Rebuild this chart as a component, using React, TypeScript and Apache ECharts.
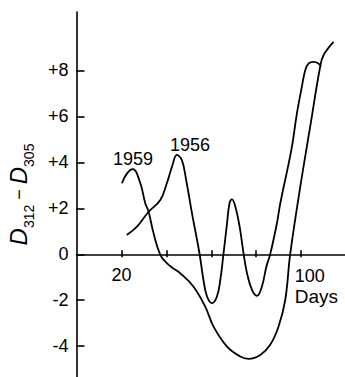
import React, { useEffect, useRef } from 'react';
import * as echarts from 'echarts';

// Days after start and D312 - D305 readings
const days1959 = [20.2, 22.5, 25.1, 28.4, 30.6, 32.1, 34.3, 37.3, 40.2, 43, 46.2, 52.1, 57.3, 61, 67, 72.9, 76.6, 81.8, 86.2, 89.9, 92.9, 95.1, 99.6, 104, 108.5, 110, 114.4];
const vals1959 = [3.09, 3.52, 3.7, 3.09, 2.22, 1.85, 0.91, -0.03, -0.39, -0.61, -0.83, -1.41, -2.28, -3.15, -4.02, -4.45, -4.55, -4.38, -3.94, -3.15, -1.99, 0, 2.94, 5.55, 8.19, 8.67, 9.24];

const days1956 = [22.4, 26.9, 32.1, 37.3, 40.2, 42.5, 44.7, 46.9, 48.8, 51.4, 52.8, 54.8, 56.5, 58.1, 60.3, 62.5, 64, 65.4, 67, 68.1, 69.2, 70.7, 72.6, 74.4, 75.9, 78.1, 80.3, 82.5, 84.5, 86.2, 89.2, 90.7, 95.6, 98.1, 100.3, 101.8, 103.3, 105.5, 107.7, 108.8];
const vals1956 = [0.84, 1.2, 1.85, 2.36, 3.09, 3.81, 4.32, 4.1, 3.23, 1.78, 1.06, 0, -1.12, -1.84, -2.13, -1.84, -1.12, 0, 1.35, 2.22, 2.39, 2.07, 1.2, 0, -0.83, -1.55, -1.81, -1.41, -0.54, 0, 1.35, 2.22, 4.53, 6.13, 7.29, 8.01, 8.3, 8.37, 8.3, 8.16];

const seriesNames = ['1959', '1956'];
const xTicks = [20, 40, 60, 80, 100];
const xLabels = [20, 100];
const yTicks = [-4, -2, 0, 2, 4, 6, 8];
const xUnitName = 'Days';

const X_MIN = 0;
const X_MAX = 119.5;
const Y_MIN = -5.34;
const Y_MAX = 10.54;

const FONT = 'Liberation Sans';
const INK = '#000';

function zip(xs: number[], ys: number[]) {
  return xs.map((x, i) => [x, ys[i]]);
}

function earlyPeak(xs: number[], ys: number[], limit: number) {
  let best = 0;
  for (let i = 0; i < xs.length; i++) {
    if (xs[i] < limit && ys[i] > ys[best]) best = i;
  }
  return [xs[best], ys[best]];
}

export default function App() {
  const ref = useRef<HTMLDivElement>(null);

  useEffect(() => {
    if (!ref.current) return;
    const chart = echarts.init(ref.current, null, { renderer: 'svg' });

    const GRID_TOP = 12;
    const GRID_H = 365;
    // move the x axis up from the grid bottom to the value 0 of the y axis
    const zeroOffset = -GRID_H * (0 - Y_MIN) / (Y_MAX - Y_MIN);

    const lineStyle = { color: INK, width: 1.6 };

    const mkSeries = (name: string, xs: number[], ys: number[], offsetX: number) => ({
      name,
      type: 'line',
      data: zip(xs, ys),
      smooth: 0.4,
      symbol: 'none',
      lineStyle: { color: INK, width: 1.8 },
      markPoint: {
        symbol: 'circle',
        symbolSize: 0,
        silent: true,
        itemStyle: { color: 'transparent' },
        label: {
          show: true,
          position: 'top',
          distance: 1,
          offset: [offsetX, 0],
          formatter: name,
          color: INK,
          fontFamily: FONT,
          fontSize: 18,
        },
        data: [{ coord: earlyPeak(xs, ys, 60) }],
      },
    });

    const option: any = {
      animation: false,
      backgroundColor: '#fff',
      textStyle: { fontFamily: FONT, color: INK },
      grid: { left: 76.5, top: GRID_TOP, width: 268.5, height: GRID_H, containLabel: false, outerBoundsMode: 'none' },
      xAxis: [
        {
          type: 'value',
          position: 'bottom',
          offset: zeroOffset,
          min: X_MIN,
          max: X_MAX,
          axisLine: { show: true, onZero: false, lineStyle },
          axisTick: { show: true, customValues: xTicks, inside: true, length: 4, lineStyle },
          axisLabel: {
            customValues: xLabels,
            margin: 12,
            color: INK,
            fontFamily: FONT,
            fontSize: 18,
            formatter: (v: number) =>
              v === 100 ? '{s| }{h|' + v + '}\n{s| }{d|' + xUnitName + '}' : String(v),
            rich: {
              s: { width: 33, align: 'left', fontSize: 18, lineHeight: 20 },
              h: { width: 46, align: 'left', fontSize: 18, lineHeight: 20, fontFamily: FONT, color: INK },
              d: { width: 46, align: 'left', fontSize: 19, lineHeight: 20, fontFamily: FONT, color: INK },
            },
          },
          splitLine: { show: false },
        },
        {
          type: 'value',
          position: 'bottom',
          offset: zeroOffset,
          min: X_MIN,
          max: X_MAX,
          axisLine: { show: false, onZero: false },
          axisTick: { show: true, customValues: xTicks, inside: false, length: 3, lineStyle },
          axisLabel: { show: false },
          splitLine: { show: false },
        },
      ],
      yAxis: {
        type: 'value',
        min: Y_MIN,
        max: Y_MAX,
        axisLine: { show: true, onZero: false, lineStyle },
        axisTick: { show: true, customValues: yTicks, inside: true, length: 8, lineStyle },
        axisLabel: {
          customValues: yTicks,
          margin: 8,
          color: INK,
          fontFamily: FONT,
          fontSize: 18,
          formatter: (v: number) => (v > 0 ? '+' + v : v < 0 ? '-' + Math.abs(v) : '0'),
        },
        splitLine: { show: false },
        name: '{d|D}{s|312}{m| − }{d|D}{s|305}',
        nameLocation: 'middle',
        nameRotate: 90,
        nameGap: 41,
        nameTextStyle: {
          color: INK,
          rich: {
            d: { fontSize: 24, fontStyle: 'italic', fontFamily: FONT, color: INK },
            s: { fontSize: 14, fontFamily: FONT, color: INK, padding: [20, 0, 0, 0] },
            m: { fontSize: 18, fontFamily: FONT, color: INK },
          },
        },
      },
      series: [
        mkSeries(seriesNames[0], days1959, vals1959, 0),
        mkSeries(seriesNames[1], days1956, vals1956, 13),
      ],
    };

    chart.setOption(option);
    return () => chart.dispose();
  }, []);

  return (
    <div
      ref={ref}
      style={{ position: 'absolute', left: 0, top: 0, width: 345, height: 377 }}
    />
  );
}
